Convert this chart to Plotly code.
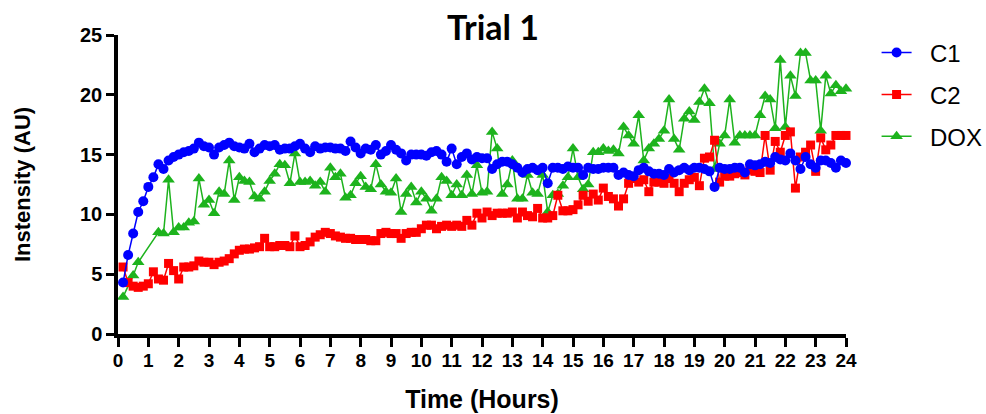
import plotly.graph_objects as go

# sampling: every 10 minutes, 1/6 h .. 24 h
hours = [round(k / 6, 4) for k in range(1, 145)]

c1 = [
    4.3, 6.6, 8.4, 10.2, 11.1, 12.3,
    13.1, 14.2, 13.8, 14.5, 14.8, 15.0,
    15.2, 15.3, 15.5, 16.0, 15.7, 15.6,
    15.0, 15.6, 15.8, 16.0, 15.7, 15.6,
    15.5, 15.9, 15.2, 15.5, 15.8, 15.7,
    15.8, 15.4, 15.5, 15.5, 15.7, 15.9,
    15.5, 15.2, 15.7, 15.5, 15.6, 15.6,
    15.5, 15.5, 15.3, 16.1, 15.6, 15.1,
    15.5, 15.4, 15.8, 15.0, 15.3, 15.8,
    15.4, 15.1, 14.5, 15.0, 15.0, 15.0,
    14.9, 15.2, 15.3, 15.0, 14.4, 15.5,
    14.2, 14.8, 15.1, 14.6, 14.8, 14.7,
    14.7, 13.8, 14.2, 14.4, 14.4, 14.2,
    13.9, 13.5, 13.8, 13.9, 13.7, 13.9,
    12.6, 13.9, 13.9, 13.8, 14.0, 13.9,
    13.9, 13.3, 13.9, 13.8, 13.8, 13.9,
    13.9, 13.9, 13.3, 13.5, 13.3, 13.2,
    13.7, 13.9, 13.6, 13.4, 13.4, 13.3,
    13.8, 13.5, 13.7, 13.9, 13.7, 13.9,
    13.9, 13.8, 13.6, 12.3, 13.9, 13.8,
    13.8, 13.9, 13.9, 13.5, 14.2, 14.1,
    14.2, 14.4, 14.3, 14.8, 14.6, 14.5,
    15.1, 14.5, 13.8, 14.8, 14.2, 13.9,
    14.5, 14.5, 14.3, 13.9, 14.5, 14.3,
]

c2 = [
    5.6, 4.3, 4.0, 3.9, 4.0, 4.2,
    5.2, 4.6, 4.5, 5.9, 5.3, 4.6,
    5.6, 5.6, 5.7, 6.1, 6.0, 6.0,
    5.8, 6.0, 6.1, 6.3, 6.7, 7.0,
    7.1, 7.1, 7.2, 7.3, 8.0, 7.3,
    7.3, 7.4, 7.4, 7.3, 8.2, 7.3,
    7.4, 7.7, 8.1, 8.3, 8.5, 8.4,
    8.2, 8.1, 8.0, 8.0, 7.9, 7.9,
    7.9, 7.8, 7.8, 8.4, 8.5, 8.4,
    8.4, 8.0, 8.4, 8.5, 8.5, 8.8,
    9.1, 9.1, 8.8, 9.0, 9.1, 9.0,
    9.1, 9.0, 9.5, 9.1, 10.1, 9.7,
    10.2, 9.9, 10.1, 10.1, 10.1, 10.2,
    9.7, 10.2, 9.9, 9.8, 10.5, 9.7,
    9.7, 9.9, 11.6, 10.3, 10.3, 10.4,
    10.8, 11.6, 11.1, 11.7, 11.2, 12.2,
    11.5, 11.3, 10.7, 11.3, 12.6, 13.0,
    12.7, 12.9, 11.9, 12.7, 12.7, 12.6,
    13.0, 12.6, 11.9, 12.6, 12.9, 13.1,
    12.4, 14.7, 14.8, 16.2, 12.7, 13.2,
    13.2, 13.4, 13.5, 13.3, 13.7, 13.6,
    13.5, 16.6, 13.7, 16.1, 15.2, 16.6,
    16.9, 12.2, 14.8, 15.2, 15.8, 13.6,
    16.4, 15.4, 15.8, 16.6, 16.6, 16.6,
]

dox = [
    3.1, None, 4.9, 6.0, None, None,
    None, 8.5, 8.4, 12.9, 8.5, 8.9,
    8.9, 9.3, 9.4, 13.0, 10.8, 11.2,
    10.1, 11.9, 11.7, 14.5, 11.2, 13.1,
    12.8, 12.7, 11.5, 11.3, 11.9, 12.8,
    13.4, 14.2, 14.1, 12.6, 15.1, 12.7,
    12.7, 12.8, 12.4, 12.7, 11.9, 13.9,
    13.1, 13.4, 11.4, 11.6, 12.6, 13.2,
    12.3, 12.1, 14.2, 12.5, 11.9, 11.8,
    13.0, 10.2, 11.7, 12.3, 11.0, 11.9,
    11.3, 10.3, 11.3, 13.1, 12.8, 11.6,
    12.5, 11.6, 13.3, 11.7, 14.1, 11.8,
    11.9, 16.9, 15.5, 11.7, 12.5, 14.5,
    11.3, 11.3, 13.3, 11.8, 11.7, 13.3,
    10.2, 11.6, 11.7, 12.4, 13.1, 15.5,
    13.1, 12.1, 12.5, 15.2, 15.2, 15.5,
    15.3, 15.4, 15.1, 17.3, 16.6, 15.9,
    18.3, 14.5, 15.5, 15.9, 16.3, 17.0,
    19.6, 16.3, 15.4, 18.0, 18.6, 17.9,
    19.4, 20.5, 19.3, 13.8, 15.9, 16.6,
    19.6, 16.0, 16.6, 16.6, 16.6, 16.6,
    18.3, 19.9, 19.6, 17.2, 22.9, 17.3,
    21.6, 19.9, 23.5, 23.5, 21.2, 21.2,
    17.0, 21.6, 20.1, 20.8, 20.3, 20.5,
]

x_ticks = list(range(0, 25))
y_ticks = [0, 5, 10, 15, 20, 25]

BLUE = "#0000FF"
RED = "#FF0000"
GREEN = "#1DB31D"
FONT = "Liberation Sans, Arial, sans-serif"

fig = go.Figure()
fig.add_trace(go.Scatter(
    x=hours, y=dox, name="\u00a0\u00a0DOX", mode="lines+markers",
    connectgaps=True, cliponaxis=False, legend="legend3", showlegend=True,
    line=dict(color=GREEN, width=1.5),
    marker=dict(symbol="triangle-up", size=11, color=GREEN),
))
fig.add_trace(go.Scatter(
    x=hours, y=c2, name="\u00a0\u00a0C2", mode="lines+markers",
    cliponaxis=False, legend="legend2", showlegend=True,
    line=dict(color=RED, width=1.5),
    marker=dict(symbol="square", size=9, color=RED),
))
fig.add_trace(go.Scatter(
    x=hours, y=c1, name="\u00a0\u00a0C1", mode="lines+markers",
    cliponaxis=False, legend="legend", showlegend=True,
    line=dict(color=BLUE, width=1.5),
    marker=dict(symbol="circle", size=10, color=BLUE),
))

def leg(y):
    return dict(x=1.042, xanchor="left", y=y, yanchor="middle",
                font=dict(family=FONT, size=24, color="black"),
                bgcolor="rgba(0,0,0,0)", borderwidth=0)

fig.update_layout(
    width=986, height=414,
    showlegend=True,
    margin=dict(l=118, r=140, t=35, b=80, autoexpand=False),
    paper_bgcolor="white", plot_bgcolor="white",
    title=dict(text="<b>Trial 1</b>", x=0.5, xanchor="center",
               y=0.932, yanchor="middle",
               font=dict(family="Lato, sans-serif", size=34, color="black")),
    legend=leg(0.94),
    legend2=leg(0.80),
    legend3=leg(0.66),
    xaxis=dict(
        range=[0, 24], tickvals=x_ticks, ticktext=[str(t) for t in x_ticks],
        showgrid=False, zeroline=False, automargin=False,
        showline=True, linecolor="black", linewidth=3.5,
        ticks="outside", ticklen=9, tickwidth=3, tickcolor="black",
        ticklabelstandoff=-3,
        tickfont=dict(family=FONT, size=19, color="black", weight="bold"),
        title=dict(text="<b>Time (Hours)</b>", standoff=22,
                   font=dict(family=FONT, size=25, color="black")),
    ),
    yaxis=dict(
        range=[0, 25], tickvals=y_ticks,
        showgrid=False, zeroline=False, automargin=False,
        showline=True, linecolor="black", linewidth=3.5,
        ticks="outside", ticklen=8, tickwidth=3, tickcolor="black",
        tickfont=dict(family=FONT, size=20, color="black", weight="bold"),
        title=dict(text="<b>Instensity (AU)</b>", standoff=44,
                   font=dict(family=FONT, size=22, color="black")),
    ),
)

fig.write_html("out.html", config={"displayModeBar": False},
               post_script="document.body.style.margin='0';")
